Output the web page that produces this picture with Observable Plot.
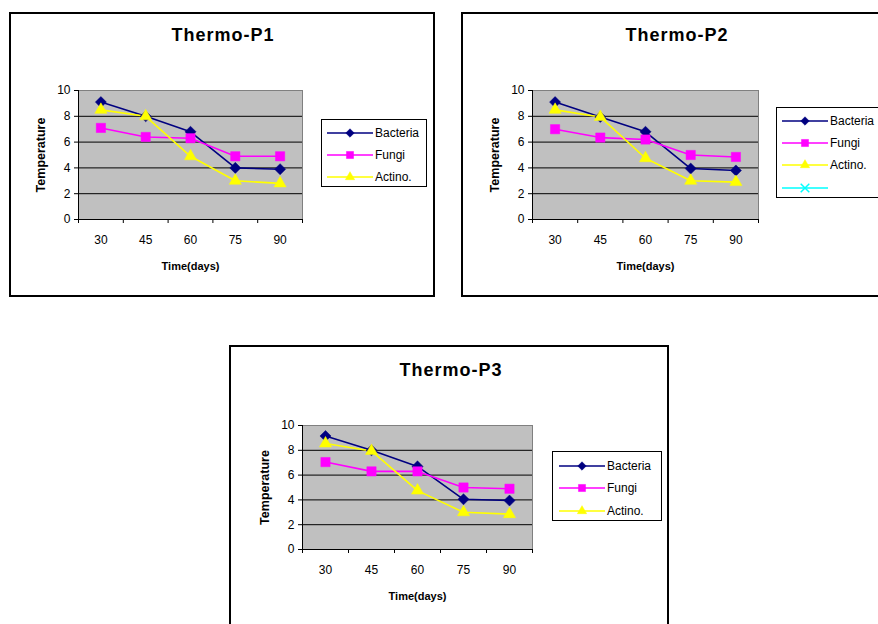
<!DOCTYPE html>
<html><head><meta charset="utf-8">
<script src="https://cdn.jsdelivr.net/npm/d3@7"></script>
<script src="https://cdn.jsdelivr.net/npm/@observablehq/plot@0.6"></script>
<style>
html,body{margin:0;padding:0;background:#fff;width:878px;height:624px;overflow:hidden;font-family:"Liberation Sans",Arial,sans-serif;}
body{position:relative;}
.box{position:absolute;border:2px solid #000;box-sizing:border-box;}
.title{position:absolute;font-weight:bold;font-size:18px;letter-spacing:1px;transform:translate(-50%,-50%);white-space:nowrap;color:#000;}
.plot{position:absolute;}
.legend{position:absolute;border:1px solid #000;background:#fff;box-sizing:border-box;}
.entry{position:absolute;height:14px;display:flex;align-items:center;font-size:12px;white-space:nowrap;}
.entry svg{display:block;margin-right:2px;}
</style></head><body>
<script>
// ---- data ----
const days = ["30","45","60","75","90"];
const seriesNames = ["Bacteria","Fungi","Actino."];
const seriesColors = ["#000080","#ff00ff","#ffff00"];
const seriesSymbols = ["diamond2","square2","triangle2"];
const yTicks = [0,2,4,6,8,10];
const yGrid = [2,4,6,8];
const titles = ["Thermo-P1","Thermo-P2","Thermo-P3"];
const xTitle = "Time(days)";
const yTitle = "Temperature";
const p1Bacteria = [9.1, 8.0, 6.8, 4.0, 3.9];
const p1Fungi    = [7.1, 6.4, 6.3, 4.9, 4.9];
const p1Actino   = [8.5, 8.0, 4.9, 3.0, 2.8];
const p2Bacteria = [9.1, 7.95, 6.8, 3.95, 3.8];
const p2Fungi    = [7.0, 6.35, 6.2, 5.0, 4.85];
const p2Actino   = [8.5, 7.95, 4.75, 3.0, 2.9];
const p3Bacteria = [9.15, 8.0, 6.7, 4.05, 3.95];
const p3Fungi    = [7.05, 6.3, 6.3, 5.0, 4.9];
const p3Actino   = [8.55, 7.95, 4.75, 3.0, 2.85];

// ---- layout ----
const charts = [
  {title: titles[0], values: [p1Bacteria, p1Fungi, p1Actino],
   box: {left: 9, top: 12, width: 426, height: 285}, titlePos: [223, 35],
   svg: {left: 20, top: 80, width: 300, height: 200, ml: 58, mr: 18, mt: 10, mb: 61},
   legend: {left: 321, top: 119, width: 106, height: 68, padL: 6, rows: [14, 36, 58]}, extra: false},
  {title: titles[1], values: [p2Bacteria, p2Fungi, p2Actino],
   box: {left: 461, top: 12, width: 426, height: 285}, titlePos: [677, 35],
   svg: {left: 474, top: 80, width: 300, height: 200, ml: 58, mr: 16, mt: 10, mb: 61},
   legend: {left: 776, top: 107, width: 110, height: 91, padL: 6, rows: [14, 36, 58, 81]}, extra: true},
  {title: titles[2], values: [p3Bacteria, p3Fungi, p3Actino],
   box: {left: 229, top: 345, width: 440, height: 300}, titlePos: [451, 370],
   svg: {left: 244, top: 415, width: 300, height: 200, ml: 58, mr: 12, mt: 10, mb: 66},
   legend: {left: 552, top: 451, width: 110, height: 70, padL: 7, rows: [15, 37, 60]}, extra: false}
];

const dotR = [5.0, 5.9, 5.8];
const font = "'Liberation Sans', Arial, sans-serif";

function el(tag, cls, parent) {
  const e = document.createElement(tag);
  if (cls) e.className = cls;
  (parent || document.body).appendChild(e);
  return e;
}

function swatch(color, symbolType, size, isCross) {
  const ns = "http://www.w3.org/2000/svg";
  const svg = document.createElementNS(ns, "svg");
  svg.setAttribute("width", 46); svg.setAttribute("height", 14);
  const line = document.createElementNS(ns, "line");
  line.setAttribute("x1", 0); line.setAttribute("x2", 46);
  line.setAttribute("y1", 7); line.setAttribute("y2", 7);
  line.setAttribute("stroke", color); line.setAttribute("stroke-width", 1.5);
  svg.appendChild(line);
  const p = document.createElementNS(ns, "path");
  p.setAttribute("d", d3.symbol(symbolType, size)());
  p.setAttribute("transform", "translate(23,7)");
  if (isCross) { p.setAttribute("fill", "none"); p.setAttribute("stroke", color); p.setAttribute("stroke-width", 1.5); }
  else { p.setAttribute("fill", color); p.setAttribute("stroke", color); p.setAttribute("stroke-width", 0.5); }
  svg.appendChild(p);
  return svg;
}

const legendSymbols = [d3.symbolDiamond2, d3.symbolSquare2, d3.symbolTriangle2];
const legendSizes = [46, 64, 62];

charts.forEach(c => {
  const box = el("div", "box");
  Object.assign(box.style, {left: c.box.left + "px", top: c.box.top + "px", width: c.box.width + "px", height: c.box.height + "px"});
  const t = el("div", "title");
  t.textContent = c.title;
  t.style.left = c.titlePos[0] + "px"; t.style.top = c.titlePos[1] + "px";

  const rows = [];
  c.values.forEach((vals, s) => vals.forEach((v, i) => rows.push({series: seriesNames[s], i, v})));
  const bounds = d3.range(days.length + 1).map(k => k - 0.5);

  const marks = [
    Plot.frame({fill: "#c0c0c0", stroke: "#808080"}),
    Plot.ruleY(yGrid, {stroke: "#000", strokeWidth: 1}),
    Plot.ruleY([0], {stroke: "#000"}),
    Plot.ruleX([bounds[0]], {stroke: "#000"}),
    Plot.axisY({ticks: yTicks, tickSize: 4, tickPadding: 4, label: null, stroke: "#000"}),
    Plot.axisX({ticks: bounds, tickSize: 4, tickFormat: () => "", label: null, stroke: "#000"}),
    Plot.axisX({ticks: d3.range(days.length), tickSize: 0, tickPadding: 16, tickFormat: i => days[i], label: null}),
    Plot.text([xTitle], {frameAnchor: "bottom", dy: 47, fontWeight: "bold", fontSize: 11, lineAnchor: "middle"}),
    Plot.text([yTitle], {frameAnchor: "left", dx: -38, rotate: -90, textAnchor: "middle", fontWeight: "bold", fontSize: 12.5, lineAnchor: "middle"})
  ];
  seriesNames.forEach((name, s) => {
    const data = rows.filter(d => d.series === name);
    marks.push(Plot.line(data, {x: "i", y: "v", stroke: "series", strokeWidth: 1.6}));
  });
  seriesNames.forEach((name, s) => {
    const data = rows.filter(d => d.series === name);
    marks.push(Plot.dot(data, {x: "i", y: "v", symbol: "series", fill: "series", stroke: "series", strokeWidth: 0.5, r: dotR[s]}));
  });

  const chart = Plot.plot({
    width: c.svg.width, height: c.svg.height,
    marginLeft: c.svg.ml, marginRight: c.svg.mr, marginTop: c.svg.mt, marginBottom: c.svg.mb,
    style: {fontFamily: font, fontSize: "12px", color: "#000", background: "transparent", overflow: "visible"},
    x: {type: "linear", domain: [bounds[0], bounds[bounds.length - 1]]},
    y: {domain: [yTicks[0], yTicks[yTicks.length - 1]]},
    color: {domain: seriesNames, range: seriesColors},
    symbol: {domain: seriesNames, range: seriesSymbols},
    marks
  });
  const wrap = el("div", "plot");
  wrap.style.left = c.svg.left + "px"; wrap.style.top = c.svg.top + "px";
  wrap.appendChild(chart);

  const lg = el("div", "legend");
  Object.assign(lg.style, {left: c.legend.left + "px", top: c.legend.top + "px", width: c.legend.width + "px", height: c.legend.height + "px"});
  seriesNames.forEach((name, s) => {
    const e = el("div", "entry", lg);
    e.style.left = (c.legend.padL - 1) + "px";
    e.style.top = (c.legend.rows[s] - 8) + "px";
    e.appendChild(swatch(seriesColors[s], legendSymbols[s], legendSizes[s], false));
    const sp = document.createElement("span"); sp.textContent = name; e.appendChild(sp);
  });
  if (c.extra) {
    const e = el("div", "entry", lg);
    e.style.left = (c.legend.padL - 1) + "px";
    e.style.top = (c.legend.rows[3] - 8) + "px";
    e.appendChild(swatch("#00ffff", d3.symbolTimes, 50, true));
  }
});
</script>
</body></html>
